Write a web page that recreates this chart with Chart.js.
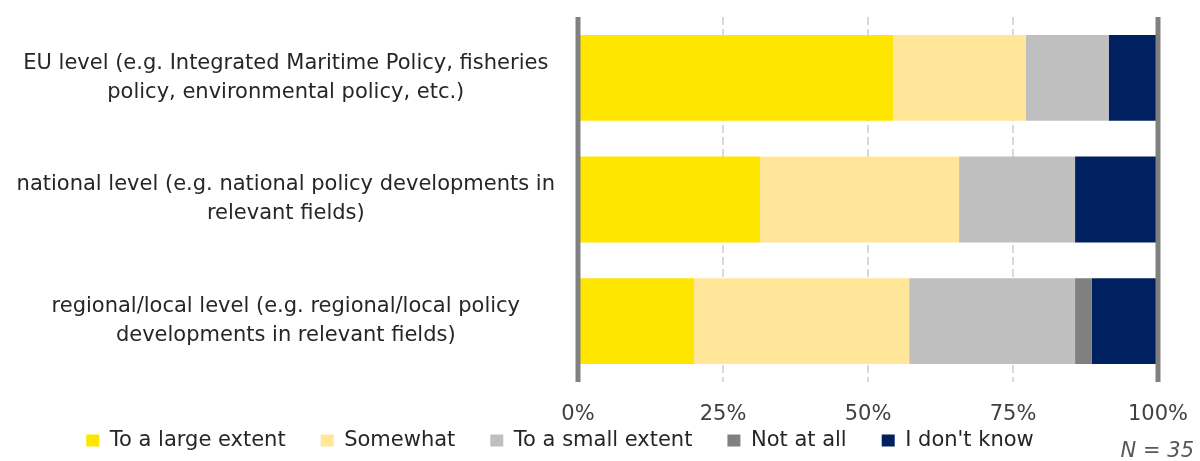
<!DOCTYPE html>
<html>
<head>
<meta charset="utf-8">
<script src="https://cdn.jsdelivr.net/npm/chart.js@4"></script>
<style>
  html, body { margin: 0; padding: 0; background: #ffffff; }
  #wrap { width: 1200px; height: 461px; }
</style>
</head>
<body>
<div id="wrap"><canvas id="levelsChart" width="1200" height="461"></canvas></div>
<script>
// data (shares in %, N = 35)
const levels = [
  ["EU level (e.g. Integrated Maritime Policy, fisheries", "policy, environmental policy, etc.)"],
  ["national level (e.g. national policy developments in", "relevant fields)"],
  ["regional/local level (e.g. regional/local policy", "developments in relevant fields)"]
];
const largeExtent = [54.3, 31.4, 20.0];
const somewhat = [22.9, 34.3, 37.1];
const smallExtent = [14.3, 20.0, 28.6];
const notAtAll = [0, 0, 2.9];
const dontKnow = [8.6, 14.3, 11.4];
const sampleNote = "N = 35";

const FONT = "'DejaVu Sans', sans-serif";

// thick grey lines at 0% and 100% + the N note
const frameLines = {
  id: "frameLines",
  afterLayout(chart) {
    // legend in the original sits a bit left of centre
    chart.legend.left -= 19;
    chart.legend.right -= 19;
  },
  afterDatasetsDraw(chart) {
    const { ctx, chartArea, scales } = chart;
    ctx.save();
    ctx.strokeStyle = "#808080";
    ctx.lineWidth = 5;
    [0, 100].forEach(v => {
      const x = scales.x.getPixelForValue(v);
      ctx.beginPath();
      ctx.moveTo(x, chartArea.top);
      ctx.lineTo(x, chartArea.bottom);
      ctx.stroke();
    });
    ctx.restore();
  },
  afterDraw(chart) {
    const ctx = chart.ctx;
    ctx.save();
    ctx.font = "italic 21px " + FONT;
    ctx.fillStyle = "#595959";
    ctx.textAlign = "right";
    ctx.textBaseline = "middle";
    ctx.fillText(sampleNote, 1194, 452);
    ctx.restore();
  }
};

const ctx = document.getElementById("levelsChart").getContext("2d");
new Chart(ctx, {
  type: "bar",
  data: {
    labels: levels,
    datasets: [
      { label: "To a large extent", data: largeExtent, backgroundColor: "#FFE600" },
      { label: "Somewhat", data: somewhat, backgroundColor: "#FFE699" },
      { label: "To a small extent", data: smallExtent, backgroundColor: "#BFBFBF" },
      { label: "Not at all", data: notAtAll, backgroundColor: "#808080" },
      { label: "I don't know", data: dontKnow, backgroundColor: "#002060" }
    ]
  },
  options: {
    indexAxis: "y",
    responsive: false,
    animation: false,
    layout: { padding: { top: 17, right: 42, bottom: 0, left: 0 } },
    datasets: {
      bar: { barPercentage: 0.705, categoryPercentage: 1, borderWidth: 0 }
    },
    scales: {
      x: {
        stacked: true,
        min: 0,
        max: 100,
        afterFit: scale => {
          // keep the axis thin so the legend sits right under it;
          // the tick labels are drawn over the legend's top padding
          scale.height = 13;
          scale.paddingLeft = 0;
          scale.paddingRight = 0;
          scale._computeLabelArea = () => null;
        },
        border: { display: false, dash: [8, 4] },
        grid: {
          drawTicks: false,
          lineWidth: 2,
          color: c => (c.tick && (c.tick.value === 0 || c.tick.value === 100)) ? "rgba(0,0,0,0)" : "#D9D9D9"
        },
        ticks: {
          stepSize: 25,
          padding: 20,
          color: "#404040",
          font: { family: FONT, size: 21 },
          callback: v => v + "%"
        }
      },
      y: {
        stacked: true,
        afterFit: scale => {
          scale.width = 578;
          scale.paddingTop = 0;
          scale.paddingBottom = 0;
        },
        border: { display: false },
        grid: { display: false, drawTicks: false },
        ticks: {
          crossAlign: "center",
          padding: 23,
          color: "#262626",
          font: { family: FONT, size: 21, lineHeight: 1.38 }
        }
      }
    },
    plugins: {
      legend: {
        position: "bottom",
        align: "center",
        labels: {
          boxWidth: 13,
          boxHeight: 12,
          padding: 35,
          color: "#262626",
          font: { family: FONT, size: 21 }
        }
      },
      tooltip: { enabled: false }
    }
  },
  plugins: [frameLines]
});
</script>
</body>
</html>
